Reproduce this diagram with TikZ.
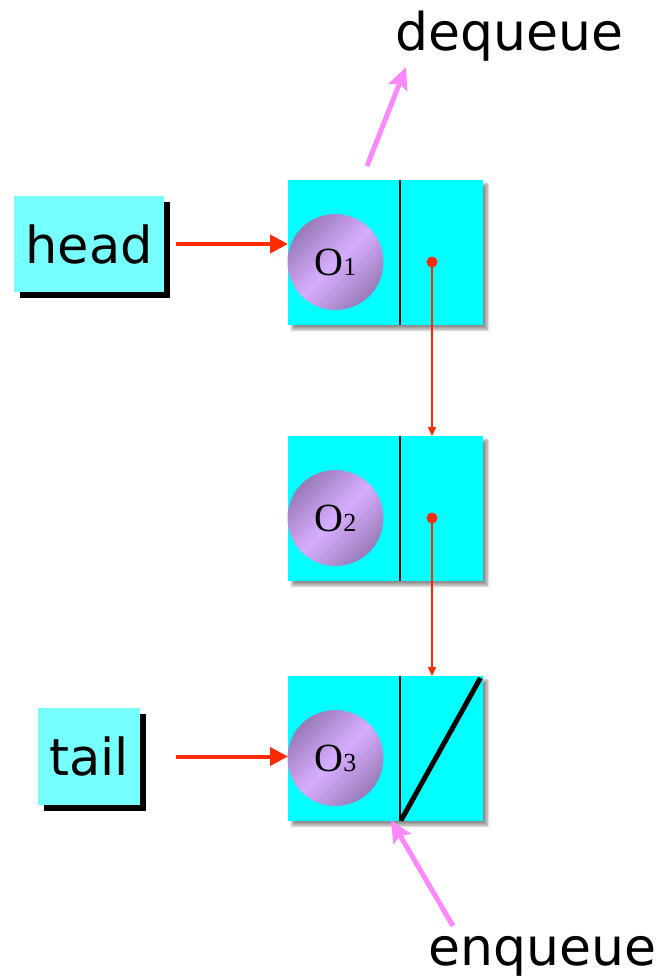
\documentclass[tikz,border=0pt]{standalone}
\usepackage{fontspec}
\setmainfont{DejaVu Sans}
\newfontfamily\objfont{Liberation Serif}
\usetikzlibrary{shadows,shadows.blur,arrows.meta}
\definecolor{cellc}{HTML}{00FFFF}
\definecolor{labc}{HTML}{77FFFF}
\definecolor{ptrred}{HTML}{FF2A00}
\definecolor{pinkc}{HTML}{FF88FF}
\definecolor{objdark}{HTML}{9A7BB8}
\definecolor{objlight}{HTML}{D6ADFF}
\tikzset{
  cell/.style={fill=cellc, minimum width=195pt, minimum height=145pt, anchor=north west, inner sep=0pt,
    blur shadow={shadow xshift=4pt, shadow yshift=-4pt, shadow blur steps=6, shadow blur radius=3pt, shadow opacity=45}},
  lab/.style={fill=labc, inner sep=0pt, font=\fontsize{51}{51}\selectfont,
    drop shadow={shadow xshift=6pt, shadow yshift=-6pt, fill=black, opacity=1}},
  obj/.style={circle, minimum size=96pt, inner sep=0pt,
    top color=objdark, bottom color=objdark, middle color=objlight, shading angle=45, font=\objfont\fontsize{40}{40}\selectfont},
  divider/.style={line width=1.6pt, black},
  ptr/.style={ptrred, line width=1.5pt, -{Triangle[length=9pt,width=8pt]}},
  bigptr/.style={ptrred, line width=4pt, -{Triangle[length=18pt,width=18pt]}},
  op/.style={pinkc, line width=5pt, -{Stealth[length=22pt,width=20pt,inset=4pt]}},
  optext/.style={font=\fontsize{52}{52}\selectfont, inner sep=0pt},
}
\newcommand{\osub}[1]{{\fontsize{26}{26}\selectfont #1}}
\begin{document}
\begin{tikzpicture}[x=1pt,y=-1pt]
\useasboundingbox (0,0) rectangle (661,977);
% cells
\node[cell] (n1) at (288,180) {};
\node[cell] (n2) at (288,436) {};
\node[cell] (n3) at (288,676) {};
\foreach \n in {n1,n2,n3}{
  \draw[divider] ([xshift=112pt]\n.north west) -- ([xshift=112pt]\n.south west);
}
% objects
\node[obj] (o1) at (335.5,262) {O\osub{1}};
\node[obj] (o2) at (335.5,518) {O\osub{2}};
\node[obj] (o3) at (335.5,758) {O\osub{3}};
% pointers
\coordinate (p1) at (432,262);
\coordinate (p2) at (432,518);
\fill[ptrred] (p1) circle (5.5pt);
\fill[ptrred] (p2) circle (5.5pt);
\draw[ptr] (p1) -- (p1 |- n2.north);
\draw[ptr] (p2) -- (p2 |- n3.north);
% null slash
\draw[line width=5pt, black] ([xshift=113pt, yshift=1pt]n3.south west) -- ([xshift=-3pt,yshift=-2pt]n3.north east);
% head / tail
\node[lab, minimum width=150pt, minimum height=96pt] (head) at (89,244) {head};
\node[lab, minimum width=102pt, minimum height=97pt] (tail) at (89,756.5) {tail};
\draw[bigptr] ([xshift=12pt]head.east) -- (head.east -| n1.west);
\draw[bigptr] ([xshift=36pt]tail.east) -- (tail.east -| n3.west);
% dequeue / enqueue
\node[optext, anchor=base west] (dq) at (395,50) {dequeue};
\node[optext, anchor=base west] (eq) at (428,965) {enqueue};
\coordinate (d0) at (367,166);
\coordinate (d1) at (406,67);
\draw[op] (d0) -- (d1);
\coordinate (e0) at (453,926);
\coordinate (e1) at (391,820);
\draw[op] (e0) -- (e1);
\end{tikzpicture}
\end{document}
